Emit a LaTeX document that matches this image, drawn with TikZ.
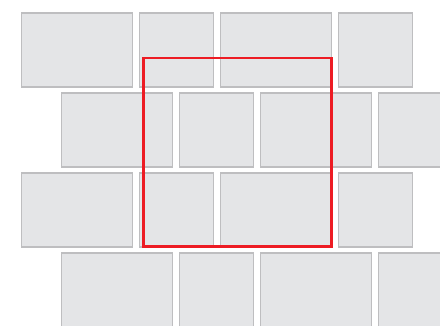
\documentclass[tikz,border=0pt]{standalone}
\usepackage{tikz}
\usetikzlibrary{positioning}

\definecolor{tilefill}{RGB}{228,229,231}
\definecolor{tileedge}{RGB}{190,190,192}
\definecolor{selred}{RGB}{237,28,36}

\begin{document}
\begin{tikzpicture}[x=1pt, y=-1pt,
    tile/.style={draw=tileedge, fill=tilefill, line width=1.2pt, inner sep=0pt,
                 outer sep=0pt, anchor=north west, minimum height=74pt},
    selframe/.style={draw=selred, line width=2.5pt}]

    % canvas
    \clip (0,0) rectangle (440,326);

    % === tiles, staggered rows ===
    \foreach \r/\ry/\rx in {1/13/21, 2/93/61, 3/173/21, 4/253/61} {
      \foreach \c/\cx/\cw in {1/0/111, 2/118/74, 3/199/111, 4/317/74} {
        \node[tile, minimum width=\cw pt] (t\r\c) at (\rx+\cx+0.5, \ry) {};
      }
    }

    % === selection frame ===
    \draw[selframe] (143.7,58.2) rectangle (331.3,246.3);

\end{tikzpicture}
\end{document}
